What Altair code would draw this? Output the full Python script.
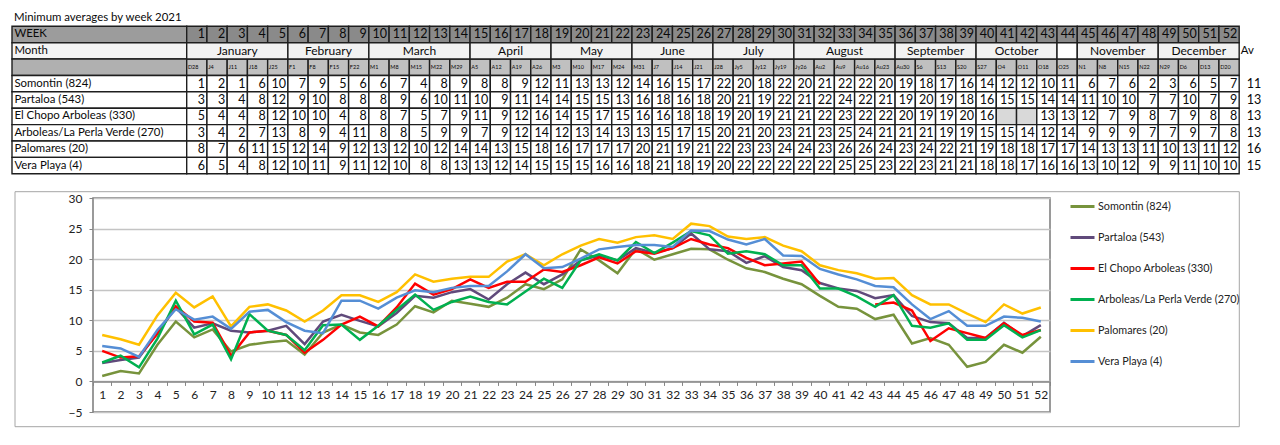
import altair as alt
import pandas as pd

# ---------------- data ----------------
TITLE = "Minimum  averages by week 2021"
STATIONS = ["Somontin (824)", "Partaloa (543)", "El Chopo Arboleas (330)",
            "Arboleas/La Perla Verde (270)", "Palomares (20)", "Vera Playa (4)"]
COLORS = ["#77933C", "#604A7B", "#FF0000", "#00B050", "#FFC000", "#558ED5"]
WEEKS = list(range(1, 53))
DATES = ["D28", "J4", "J11", "J18", "J25", "F1", "F8", "F15", "F22", "M1", "M8", "M15", "M22",
         "M29", "A5", "A12", "A19", "A26", "M3", "M10", "M17", "M24", "M31", "J7", "J14", "J21",
         "J28", "Jy5", "Jy12", "Jy19", "Jy26", "Au2", "Au9", "Au16", "Au23", "Au30", "S6", "S13",
         "S20", "S27", "O4", "O11", "O18", "O25", "N1", "N8", "N15", "N22", "N29", "D6", "D13", "D20"]
MONTHS = ["January", "February", "March", "April", "May", "June", "July", "August",
          "September", "October", "", "November", "December"]
MONTH_FIRST = [1, 6, 10, 15, 19, 23, 27, 31, 36, 40, 44, 45, 49]
MONTH_LAST = [5, 9, 14, 18, 22, 26, 30, 35, 39, 43, 44, 48, 52]

# table (rounded weekly values)
T_SOMONTIN = [1, 2, 1, 6, 10, 7, 9, 5, 6, 6, 7, 4, 8, 9, 8, 8, 9, 12, 11, 13, 13, 12, 14, 16, 15, 17,
              22, 20, 18, 22, 20, 21, 22, 22, 20, 19, 18, 17, 16, 14, 12, 12, 10, 11, 6, 7, 6, 2, 3, 6, 5, 7]
T_PARTALOA = [3, 3, 4, 8, 12, 9, 10, 8, 8, 8, 9, 6, 10, 11, 10, 9, 11, 14, 14, 15, 15, 13, 16, 18, 16, 18,
              20, 21, 19, 22, 21, 22, 24, 22, 21, 19, 20, 19, 18, 16, 15, 15, 14, 14, 11, 10, 10, 7, 7, 10, 7, 9]
T_CHOPO = [5, 4, 4, 8, 12, 10, 10, 4, 8, 8, 7, 5, 7, 9, 11, 9, 12, 16, 14, 15, 17, 15, 16, 16, 18, 18,
           19, 20, 19, 21, 21, 22, 23, 22, 22, 20, 19, 19, 20, 16, None, None, 13, 13, 12, 7, 9, 8, 7, 9, 8, 8]
T_PERLA = [3, 4, 2, 7, 13, 8, 9, 4, 11, 8, 8, 5, 9, 9, 7, 9, 12, 14, 12, 13, 14, 13, 13, 15, 17, 15,
           20, 21, 20, 23, 21, 23, 25, 24, 21, 21, 21, 19, 19, 15, 15, 14, 12, 14, 9, 9, 9, 7, 7, 9, 7, 8]
T_PALOMARES = [8, 7, 6, 11, 15, 12, 14, 9, 12, 13, 12, 10, 12, 14, 14, 13, 15, 18, 16, 17, 17, 17, 20, 21, 19, 21,
               22, 23, 23, 24, 24, 23, 26, 26, 24, 23, 24, 22, 21, 19, 18, 18, 17, 17, 14, 13, 13, 11, 10, 13, 11, 12]
T_VERA = [6, 5, 4, 8, 12, 10, 11, 9, 11, 12, 10, 8, 8, 13, 13, 12, 14, 15, 15, 15, 16, 16, 18, 21, 18, 19,
          20, 22, 22, 22, 22, 22, 25, 25, 23, 22, 23, 21, 21, 18, 18, 17, 16, 16, 13, 10, 12, 9, 9, 11, 10, 10]
AVERAGES = [11, 13, 13, 13, 16, 15]

# chart (weekly averages as plotted)
L_SOMONTIN = [0.9, 1.7, 1.3, 6.0, 9.8, 7.2, 8.5, 4.9, 6.0, 6.4, 6.7, 4.4,
              8.0, 9.3, 8.0, 7.6, 9.3, 12.3, 11.3, 13.2, 12.7, 12.2, 13.7, 15.9, 15.1,
              16.7, 21.6, 19.8, 17.7, 21.7, 19.9, 20.8, 21.7, 21.6, 19.9, 18.5, 17.9, 16.8,
              15.9, 14.0, 12.2, 11.9, 10.2, 10.9, 6.2, 7.1, 6.0, 2.4, 3.2, 6.0, 4.7, 7.3]
L_PARTALOA = [3.0, 3.5, 3.9, 8.0, 12.1, 8.8, 9.5, 8.3, 8.0, 8.3, 9.1, 6.1,
              9.8, 10.9, 9.9, 9.0, 11.2, 14.0, 13.7, 14.6, 15.1, 13.4, 15.9, 17.8, 15.9,
              17.5, 19.8, 20.6, 19.8, 21.8, 21.0, 21.8, 24.2, 21.6, 21.3, 19.4, 20.5, 18.7,
              18.2, 16.1, 15.2, 14.8, 13.6, 14.1, 10.7, 9.7, 9.5, 7.1, 7.1, 9.6, 7.4, 9.2]
L_CHOPO = [5.0, 3.9, 4.1, 7.8, 12.3, 9.8, 9.6, 4.2, 8.0, 8.3, 7.6, 4.7,
           6.8, 9.3, 10.6, 9.0, 12.1, 16.0, 14.2, 15.1, 16.7, 15.3, 16.3, 16.3, 18.3,
           17.9, 19.0, 20.3, 19.3, 21.3, 20.9, 21.8, 23.3, 22.4, 21.8, 20.2, 19.0, 19.3,
           19.6, 15.9, None, None, 12.6, 12.9, 11.6, 6.6, 8.7, 7.9, 7.1, 9.5, 7.6, 8.4]
L_PERLA = [3.1, 4.2, 2.3, 7.0, 13.2, 7.7, 9.3, 3.6, 11.0, 8.3, 7.6, 5.1,
           9.2, 9.3, 6.8, 9.1, 11.7, 14.2, 11.7, 13.0, 13.9, 13.0, 12.6, 14.7, 16.8,
           15.3, 19.8, 20.8, 19.8, 22.8, 21.0, 22.7, 24.6, 23.9, 20.9, 21.3, 20.8, 19.0,
           19.0, 15.2, 15.2, 13.9, 12.2, 14.1, 9.1, 8.8, 9.5, 6.8, 6.8, 9.2, 7.2, 8.4]
L_PALOMARES = [7.6, 6.9, 6.0, 10.8, 14.5, 12.1, 13.9, 9.0, 12.2, 12.6, 11.6, 9.8,
               11.6, 14.1, 14.1, 13.0, 14.6, 17.5, 16.3, 16.8, 17.1, 17.1, 19.6, 20.8, 19.0,
               20.8, 22.2, 23.3, 22.7, 23.6, 23.9, 23.3, 25.8, 25.4, 23.7, 23.3, 23.6, 22.2,
               21.3, 19.0, 18.2, 17.7, 16.8, 16.9, 14.1, 12.6, 12.6, 11.1, 9.7, 12.6, 11.1, 12.1]
L_VERA = [5.8, 5.4, 4.0, 8.4, 11.8, 10.1, 10.6, 8.6, 11.4, 11.7, 9.7, 8.3,
          7.9, 13.2, 13.2, 11.9, 13.7, 14.9, 14.6, 15.3, 15.6, 15.6, 18.0, 20.8, 18.5,
          18.7, 20.1, 21.6, 22.0, 22.3, 22.3, 22.0, 24.7, 24.6, 23.2, 22.4, 23.3, 20.6,
          20.5, 18.4, 17.5, 16.7, 15.6, 15.4, 12.6, 10.2, 11.5, 9.1, 9.1, 10.6, 10.4, 9.8]

TABLE = [T_SOMONTIN, T_PARTALOA, T_CHOPO, T_PERLA, T_PALOMARES, T_VERA]
LINES = [L_SOMONTIN, L_PARTALOA, L_CHOPO, L_PERLA, L_PALOMARES, L_VERA]

# ---------------- layout ----------------
FONT = "Lato"
MARGIN = 8
VIEW_X, VIEW_Y, W, H = 93, 198, 957, 214      # plot area on the page
PAGE_W, PAGE_H = 1272, 437
COL0, COLW = 186.7, 20.24                     # table: left edge of week 1, column width
ROW0, ROWH = 26.3, 16.38                      # table: top of header row, row height
LABEL_LEFT = 12
FRAME = (15, 191.7, 1239.3, 426.7)
LABEL_SIZE = 11.4
NUM_SIZE = 12.5


def cx(px):
    return (px - COL0) / COLW


def ry(py):
    return (py - ROW0) / ROWH


tx = alt.Scale(domain=[cx(VIEW_X), cx(VIEW_X + W)], nice=False, zero=False)
ty = alt.Scale(domain=[ry(VIEW_Y), ry(VIEW_Y + H)], nice=False, zero=False, reverse=True)

# ---------------- table cells ----------------
LW = cx(LABEL_LEFT)
head_fill = ["#9c9c9c", "#f4f4f4", "#b0b0b0"]
cells = []
for r in range(3 + len(STATIONS)):
    cells.append(dict(x0=LW, x1=0, y0=r, y1=r + 1, fill=head_fill[r] if r < 3 else "#ffffff"))
for i, w in enumerate(WEEKS):
    cells.append(dict(x0=i, x1=i + 1, y0=0, y1=1, fill="#8a8a8a"))
    cells.append(dict(x0=i, x1=i + 1, y0=2, y1=3, fill="#c0c0c0"))
    for k, vals in enumerate(TABLE):
        cells.append(dict(x0=i, x1=i + 1, y0=3 + k, y1=4 + k,
                          fill="#ffffff" if vals[i] is not None else "#d9d9d9"))
for m, a, b in zip(MONTHS, MONTH_FIRST, MONTH_LAST):
    cells.append(dict(x0=a - 1, x1=b, y0=1, y1=2, fill="#f2f2f2" if m else "#ffffff"))
cells_df = pd.DataFrame(cells)

frame_df = pd.DataFrame([dict(x0=cx(FRAME[0]), x1=cx(FRAME[2]), y0=ry(FRAME[1]), y1=ry(FRAME[3]))])

left_t, right_t, center_t = [], [], []
pad = 2.4 / COLW
left_t.append(dict(x=cx(14), y=ry(17.5), t=TITLE, s=LABEL_SIZE))
left_t.append(dict(x=LW + pad, y=0.5, t="WEEK", s=LABEL_SIZE))
left_t.append(dict(x=LW + pad, y=1.5, t="Month", s=LABEL_SIZE))
left_t.append(dict(x=52 + 1.5 / COLW, y=1.5, t="Av", s=LABEL_SIZE))
for k, name in enumerate(STATIONS):
    left_t.append(dict(x=LW + pad, y=3.5 + k, t=name, s=LABEL_SIZE))
    center_t.append(dict(x=cx(1254), y=3.5 + k, t=str(AVERAGES[k]), s=NUM_SIZE))
for i, w in enumerate(WEEKS):
    right_t.append(dict(x=i + 1 - 0.1, y=0.5, t=str(w), s=NUM_SIZE))
    left_t.append(dict(x=i + 0.06, y=2.5, t=DATES[i], s=5.5))
    for k, vals in enumerate(TABLE):
        if vals[i] is not None:
            right_t.append(dict(x=i + 1 - 0.1, y=3.5 + k, t=str(vals[i]), s=NUM_SIZE))
for m, a, b in zip(MONTHS, MONTH_FIRST, MONTH_LAST):
    if m:
        center_t.append(dict(x=(a - 1 + b) / 2, y=1.5, t=m, s=LABEL_SIZE + 0.6))

rects = alt.Chart(cells_df).mark_rect(stroke="#1e1e1e", strokeWidth=1.4).encode(
    x=alt.X("x0:Q", scale=tx, axis=None), x2="x1:Q",
    y=alt.Y("y0:Q", scale=ty, axis=None), y2="y1:Q",
    fill=alt.Fill("fill:N", scale=None),
)
frame = alt.Chart(frame_df).mark_rect(fillOpacity=0, stroke="#a6a6a6", strokeWidth=1).encode(
    x=alt.X("x0:Q", scale=tx, axis=None), x2="x1:Q",
    y=alt.Y("y0:Q", scale=ty, axis=None), y2="y1:Q",
)


def text_layer(rows, align):
    return alt.Chart(pd.DataFrame(rows)).mark_text(
        align=align, baseline="middle", font=FONT, color="#0a0a0a"
    ).encode(
        x=alt.X("x:Q", scale=tx, axis=None),
        y=alt.Y("y:Q", scale=ty, axis=None),
        text="t:N",
        size=alt.Size("s:Q", scale=None),
    )


table = alt.layer(rects, frame, text_layer(left_t, "left"),
                  text_layer(right_t, "right"), text_layer(center_t, "center"))

# ---------------- line chart ----------------
rows = []
for name, vals in zip(STATIONS, LINES):
    for w, v in zip(WEEKS, vals):
        rows.append(dict(station=name, week=w, value=v))
line_df = pd.DataFrame(rows)

lines = alt.Chart(line_df).mark_line(strokeWidth=2.5, invalid="break-paths-show-domains").encode(
    x=alt.X("week:O", scale=alt.Scale(type="band", paddingInner=0, paddingOuter=0),
            axis=alt.Axis(orient="bottom", title=None, labelAngle=0, tickBand="extent", tickSize=4,
                          tickColor="#868686", domainColor="#868686", domainWidth=1.5,
                          offset=-H * 5 / 35, labelFont=FONT, labelFontSize=12,
                          labelColor="#222222", labelPadding=4, grid=False)),
    y=alt.Y("value:Q", scale=alt.Scale(domain=[-5, 30], nice=False, zero=False),
            axis=alt.Axis(orient="left", title=None, values=list(range(-5, 31, 5)), grid=True,
                          gridColor="#c4c4c4", gridWidth=1.5, domain=False, tickSize=4,
                          tickColor="#868686", labelFont=FONT, labelFontSize=12,
                          labelColor="#222222", labelPadding=7)),
    color=alt.Color("station:N", scale=alt.Scale(domain=STATIONS, range=COLORS),
                    legend=alt.Legend(title=None, orient="none", legendX=976, legendY=1.5,
                                      symbolType="stroke", symbolSize=576, symbolStrokeWidth=3,
                                      labelFont=FONT, labelFontSize=10.8, labelColor="#222222",
                                      labelOffset=2, rowPadding=17, clipHeight=14, padding=0)),
    order=alt.Order("week:Q"),
)

chart = alt.layer(table, lines).resolve_scale(x="independent", y="independent").properties(
    width=W, height=H,
    autosize=alt.AutoSizeParams(type="none"),
    padding={"left": VIEW_X - MARGIN, "top": VIEW_Y - MARGIN,
             "right": PAGE_W - VIEW_X - W, "bottom": PAGE_H - VIEW_Y - H},
    background="white",
).configure_view(stroke="#7a7a7a", strokeWidth=1.5)

chart.save("out.html", embed_options={"renderer": "svg", "actions": False})
